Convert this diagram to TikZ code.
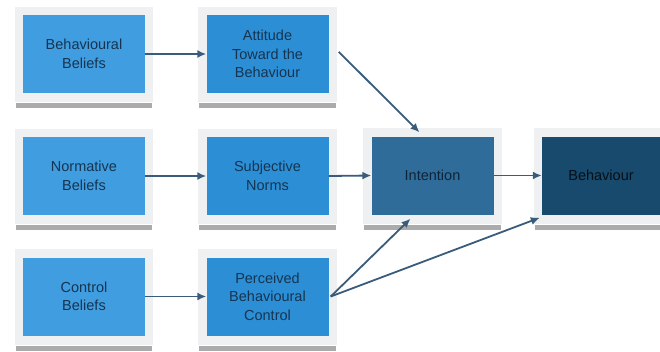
\documentclass[tikz,border=0pt]{standalone}
\usepackage{fontspec}
\setmainfont{Liberation Sans}
\usetikzlibrary{arrows.meta,calc,backgrounds}
\definecolor{leftbox}{HTML}{3F9DE0}
\definecolor{midbox}{HTML}{2C8FD6}
\definecolor{intbox}{HTML}{2F6C9A}
\definecolor{behbox}{HTML}{184A6E}
\definecolor{txt}{HTML}{163450}
\definecolor{arr}{HTML}{3A5C7A}
\definecolor{framec}{HTML}{EEF0F2}
\definecolor{shadowc}{HTML}{ABABAB}
\tikzset{
  boxbase/.style={rectangle, minimum width=122pt, minimum height=78pt, inner sep=2pt,
    align=center, text=txt, font=\fontsize{14.5}{18.5}\selectfont},
  lbox/.style={boxbase, fill=leftbox},
  mbox/.style={boxbase, fill=midbox},
  ibox/.style={boxbase, fill=intbox, text=txt!70!black},
  bbox/.style={boxbase, fill=behbox, text=black!80!behbox, minimum width=118pt},
  conn/.style={draw=arr, line width=1.8pt, -{Latex[length=9pt,width=8pt]}}
}
\begin{document}
\begin{tikzpicture}[x=1pt,y=-1pt]
\useasboundingbox (0,0) rectangle (660,351);
\path
  (84,54) node[lbox] (bb) {Behavioural\\Beliefs}
  (267.5,54) node[mbox] (att) {Attitude\\Toward the\\Behaviour}
  (84,176) node[lbox] (nb) {Normative\\Beliefs}
  (267.5,176) node[mbox] (sn) {Subjective\\Norms}
  (84,296.5) node[lbox] (cb) {Control\\Beliefs}
  (267.5,296.5) node[mbox] (pbc) {Perceived\\Behavioural\\Control}
  (432.5,175.5) node[ibox] (int) {Intention}
  (601,175.5) node[bbox] (beh) {Behaviour};
\begin{scope}[on background layer]
  \fill[white] (0,0) rectangle (660,351);
  \foreach \n in {bb,att,nb,sn,cb,pbc,int,beh}{
    \fill[shadowc] ($(\n.south west)+(-7pt,-10pt)$) rectangle ($(\n.south east)+(7pt,-15pt)$);
    \fill[framec] ($(\n.south west)+(-8pt,-9pt)$) rectangle ($(\n.north east)+(8pt,8pt)$);
  }
\end{scope}
\draw[conn] (bb.east) -- (att.west);
\draw[conn] (nb.east) -- (sn.west);
\draw[conn] (cb.east) -- (pbc.west);
\draw[conn] (sn.east) -- (int.west);
\draw[conn] (int.east) -- (beh.west);
\coordinate (attout) at ($(att.north east)+(10pt,-37pt)$);
\coordinate (pbcout) at ($(pbc.east)+(2pt,0pt)$);
\draw[conn] (attout) -- ($(int.north)+(-13pt,4pt)$);
\draw[conn] (pbcout) -- ($(int.south)+(-22pt,-4pt)$);
\draw[conn] (pbcout) -- ($(beh.south west)+(-2pt,-3pt)$);
\end{tikzpicture}
\end{document}
